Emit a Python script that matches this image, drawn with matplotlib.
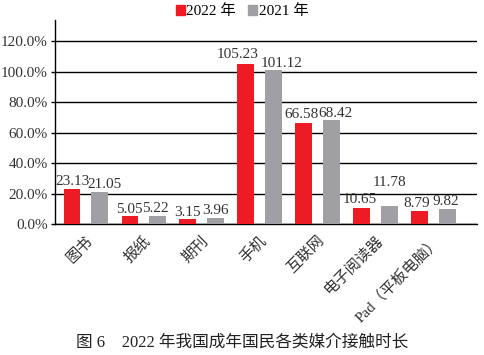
import matplotlib
matplotlib.use('Agg')
import matplotlib.pyplot as plt
import numpy as np
from matplotlib.ticker import FuncFormatter
from matplotlib.patches import Patch

plt.rcParams['font.family'] = ['Liberation Serif', 'Noto Sans CJK SC']

categories = ['图书', '报纸', '期刊', '手机', '互联网', '电子阅读器', 'Pad（平板电脑）']
v2022 = [23.13, 5.05, 3.15, 105.23, 66.58, 10.65, 8.79]
v2021 = [21.05, 5.22, 3.96, 101.12, 68.42, 11.78, 9.82]
yticks = [0, 20, 40, 60, 80, 100, 120]

# label nudges (points) so neighbouring labels sit side by side like the original
dx22 = [0, -0.7, 0, -5.5, -1.5, -1.5, -1.8]
dx21 = [3.2, -1.8, 0, 6, 3, 0, -0.7]
dy22 = [0.5, 0.5, 0.5, 2, 1, 1.5, 0.5]
dy21 = [0.5, 0.5, 0.5, 0, 0, 12, 0.5]

red = '#ED1C24'
gray = '#A0A0A4'

fig = plt.figure(figsize=(4.84, 3.55), dpi=100)
ax = fig.add_axes([0.113, 0.369, 0.873, 0.575])

x = np.arange(len(categories))
off = 0.24
w = 0.29
ax.bar(x - off, np.array(v2022) / 100, w, color=red, zorder=3)
ax.bar(x + off, np.array(v2021) / 100, w, color=gray, zorder=3)

for i in range(len(categories)):
    ax.annotate(f'{v2022[i]:.2f}', (x[i] - off, v2022[i] / 100), xytext=(dx22[i], dy22[i]),
                textcoords='offset points', ha='center', va='bottom', fontsize=11, color='#333333')
    ax.annotate(f'{v2021[i]:.2f}', (x[i] + off, v2021[i] / 100), xytext=(dx21[i], dy21[i]),
                textcoords='offset points', ha='center', va='bottom', fontsize=11, color='#333333')

ax.set_xlim(-0.54, 6.76)
ax.set_ylim(0, 1.34)
ax.set_yticks([t / 100 for t in yticks])
ax.yaxis.set_major_formatter(FuncFormatter(lambda v, p: f'{v * 100:.1f}%'))
ax.grid(axis='y', color='black', linewidth=1.0, zorder=0)
ax.tick_params(axis='y', length=3, width=1, labelsize=11, labelcolor='#333333', pad=2)
ax.set_xticks(x)
ax.set_xticklabels(categories, rotation=45, ha='right', rotation_mode='anchor', fontsize=11, color='#333333')
ax.tick_params(axis='x', length=0, pad=7)
for s in ['top', 'right']:
    ax.spines[s].set_visible(False)
ax.spines['left'].set_linewidth(1.0)
ax.spines['bottom'].set_linewidth(1.0)

handles = [Patch(color=red, label='2022 年'), Patch(color=gray, label='2021 年')]
fig.legend(handles=handles, loc='center', bbox_to_anchor=(0.5, 0.968), ncol=2, frameon=False,
           fontsize=11, handlelength=0.6, handleheight=0.6, handletextpad=0.1, columnspacing=0.8)

fig.text(0.5, 0.035, '图 6　2022 年我国成年国民各类媒介接触时长', ha='center', va='center', fontsize=12, color='#222222')

fig.savefig('out.png', dpi=100)
